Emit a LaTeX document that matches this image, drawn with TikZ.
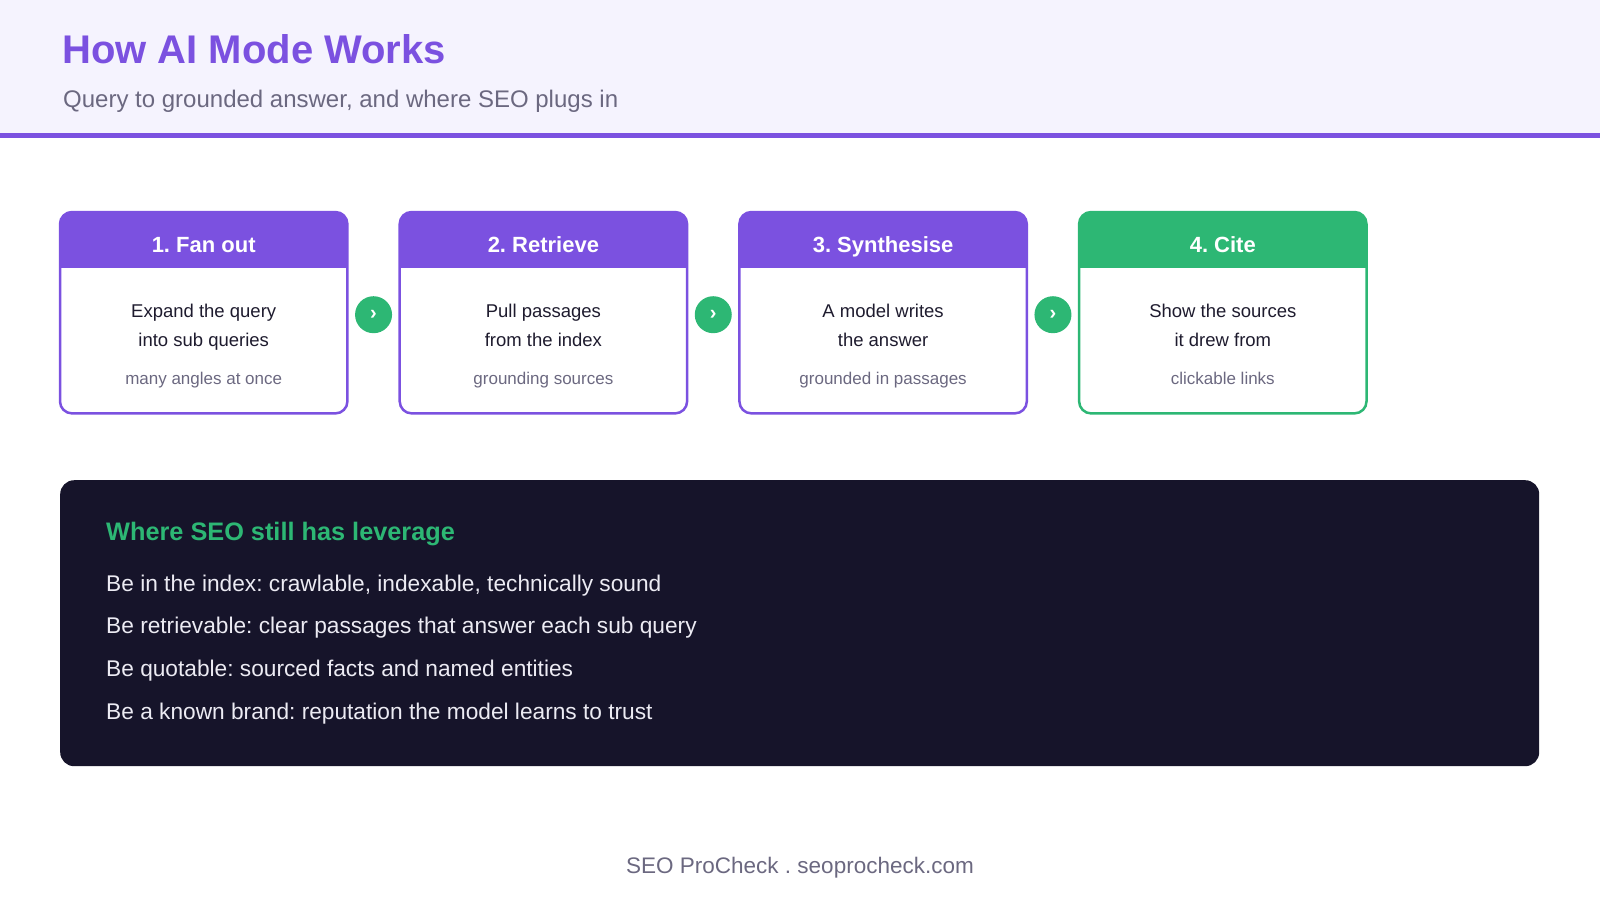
\documentclass[tikz,border=0pt]{standalone}
\usepackage{fontspec}
\setmainfont{Liberation Sans}
\usetikzlibrary{positioning,calc}
\definecolor{brandpurple}{HTML}{7B51E0}
\definecolor{brandgreen}{HTML}{2DB774}
\definecolor{headbg}{HTML}{F5F3FE}
\definecolor{inkdark}{HTML}{1E1B2E}
\definecolor{inkmuted}{HTML}{6B6880}
\definecolor{panelbg}{HTML}{16142A}
\definecolor{paneltext}{HTML}{ECEBF3}
\newcommand{\pxfont}[1]{\fontsize{#1}{#1}\selectfont}
\frenchspacing
\tikzset{
  cardframe/.style={minimum width=287pt,minimum height=201pt,inner sep=0pt,
                    anchor=north west},
  cardtitle/.style={anchor=base,inner sep=0pt,white,font=\pxfont{22}\bfseries},
  cardline/.style={anchor=base,inner sep=0pt,inkdark,font=\pxfont{18.5}},
  cardnote/.style={anchor=base,inner sep=0pt,inkmuted,font=\pxfont{17}},
  chevron/.style={circle,fill=brandgreen,minimum size=37pt,inner sep=0pt,
                  text=white,font=\pxfont{20}\bfseries},
  panel/.style={fill=panelbg,rounded corners=14pt,minimum width=1479pt,
                minimum height=286pt,inner sep=0pt,anchor=north west},
  paneltxt/.style={anchor=base west,inner sep=0pt,paneltext,font=\pxfont{22.7}},
}

\begin{document}
\frenchspacing
\begin{tikzpicture}[x=1pt,y=-1pt]
  \useasboundingbox (0,0) rectangle (1600,900);
  % header band
  \fill[headbg] (0,0) rectangle (1600,133);
  \fill[brandpurple] (0,133) rectangle (1600,138);
  \node[anchor=base west,inner sep=0pt,brandpurple,font=\pxfont{40}\bfseries]
    (title) at (62,63) {How AI Mode Works};
  \node[anchor=base west,inner sep=0pt,inkmuted,font=\pxfont{24}]
    (subtitle) at (63,107) {Query to grounded answer, and where SEO plugs in};

  % the four steps
  \foreach \i/\ttl/\la/\lb/\nt/\clr in {%
    1/{1. Fan out}/{Expand the query}/{into sub queries}/{many angles at once}/brandpurple,%
    2/{2. Retrieve}/{Pull passages}/{from the index}/{grounding sources}/brandpurple,%
    3/{3. Synthesise}/{A model writes}/{the answer}/{grounded in passages}/brandpurple,%
    4/{4. Cite}/{Show the sources}/{it drew from}/{clickable links}/brandgreen%
  }{%
    \begin{scope}[xshift=(\i-1)*339.7pt]
      % card body
      \node[cardframe] (c\i) at (60,212) {};
      % coloured header bar
      \begin{scope}
        \clip[rounded corners=12pt] (c\i.north west) rectangle (c\i.south east);
        \fill[\clr] (c\i.north west) rectangle ([yshift=-56pt]c\i.north east);
      \end{scope}
      \draw[\clr,line width=2.5pt,rounded corners=12pt]
        (c\i.north west) rectangle (c\i.south east);
      \node[cardtitle] (t\i) at ([yshift=-40pt]c\i.north) {\ttl};
      % body text below header
      \node[cardline] (la\i) at ([yshift=-105pt]c\i.north) {\la};
      \node[cardline] (lb\i) at ([yshift=-134pt]c\i.north) {\lb};
      \node[cardnote] (n\i) at ([yshift=-172pt]c\i.north) {\nt};
    \end{scope}
  }

  % chevrons between the cards
  \foreach \i/\j in {1/2,2/3,3/4}{%
    \node[chevron] (ch\i) at ([yshift=-2pt]$(c\i.east)!0.5!(c\j.west)$) {›};
  }

  % SEO leverage panel
  \node[panel] (seo) at (60,480) {};
  \node[anchor=base west,inner sep=0pt,brandgreen,font=\pxfont{25.3}\bfseries]
    (seohead) at ([xshift=46pt,yshift=-60pt]seo.north west) {Where SEO still has leverage};
  \foreach \j/\txt in {%
    0/{Be in the index: crawlable, indexable, technically sound},%
    1/{Be retrievable: clear passages that answer each sub query},%
    2/{Be quotable: sourced facts and named entities},%
    3/{Be a known brand: reputation the model learns to trust}%
  }{%
    \node[paneltxt] (p\j) at ([xshift=46pt,yshift=-111pt-42.7pt*\j]seo.north west) {\txt};
  }

  % footer
  \node[anchor=base,inner sep=0pt,inkmuted,font=\pxfont{22.5}]
    (footer) at (800,873) {SEO ProCheck . seoprocheck.com};
\end{tikzpicture}
\end{document}
